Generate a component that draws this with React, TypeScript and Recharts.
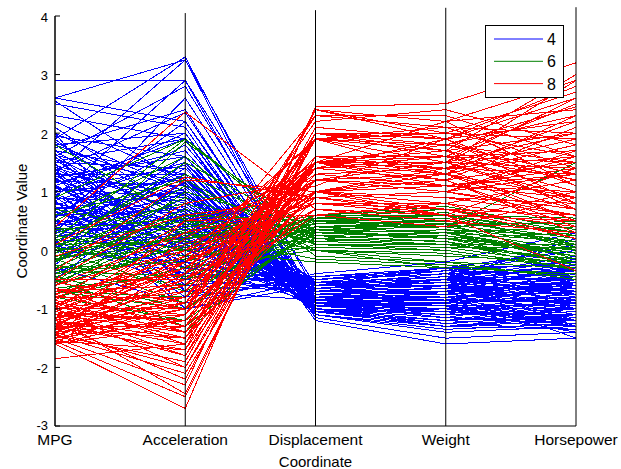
import React from 'react';
import { LineChart, Line, XAxis, YAxis, ReferenceLine, Legend } from 'recharts';

// Axis categories (x) and y ticks
const coordinates = ['MPG', 'Acceleration', 'Displacement', 'Weight', 'Horsepower'];
const yTicks = [-3, -2, -1, 0, 1, 2, 3, 4];
const groupNames = ['4', '6', '8'];
const groupColors = ['#0000ff', '#008000', '#ff0000'];

// Standardized values per car: [MPG, Acceleration, Displacement, Weight, Horsepower]
const cyl4Lines: number[][] = [
  [2.9, 2.9, -1.0, -1.3, -1.2],
  [2.6, 3.25, -1.05, -1.0, -1.4],
  [2.6, 2.2, -1.0, -1.2, -1.3],
  [2.5, 2.1, -1.1, -1.3, -1.35],
  [2.55, 1.1, -0.95, -1.1, -1.0],
  [2.2, 1.2, -1.1, -1.4, -1.3],
  [2.1, 0.6, -1.0, -1.25, -1.1],
  [1.9, 3.3, -0.9, -0.7, -1.5],
  [1.6, 2.8, -0.85, -0.6, -1.2],
  [1.3, 3.25, -0.7, -0.5, -1.3],
  [0.9, 2.9, -0.6, -0.3, -1.0],
  [1.95, 1.6, -1.0, -1.2, -0.9],
  [1.8, 1.0, -1.05, -1.3, -1.1],
  [1.7, 0.4, -0.95, -1.1, -0.7],
  [1.6, -0.2, -0.9, -1.0, -0.5],
  [1.5, 1.4, -0.9, -1.15, -1.2],
  [1.45, 0.8, -0.85, -0.9, -0.8],
  [1.4, 0.2, -0.8, -0.95, -0.6],
  [1.3, 1.3, -0.9, -1.0, -1.0],
  [1.25, -0.5, -0.7, -0.7, -0.3],
  [1.2, 0.5, -0.95, -1.0, -0.9],
  [1.15, 1.7, -0.8, -0.8, -1.2],
  [1.1, 0.0, -0.75, -0.85, -0.5],
  [1.05, 0.9, -0.9, -0.9, -0.8],
  [1.0, 1.2, -1.0, -1.1, -1.1],
  [0.95, -0.3, -0.6, -0.6, -0.2],
  [0.9, 0.6, -0.85, -0.8, -0.7],
  [0.85, 1.5, -0.95, -0.95, -1.15],
  [0.8, 0.3, -0.7, -0.75, -0.6],
  [0.75, -0.8, -0.5, -0.4, 0.1],
  [0.7, 1.0, -0.9, -0.85, -0.9],
  [0.65, 0.1, -0.65, -0.5, -0.4],
  [0.6, 0.7, -0.8, -0.7, -0.75],
  [0.55, 2.2, -0.9, -0.9, -1.3],
  [0.5, -0.4, -0.55, -0.45, -0.1],
  [0.45, 0.4, -0.75, -0.65, -0.55],
  [0.4, 1.3, -0.85, -0.6, -0.95],
  [0.35, -0.1, -0.6, -0.55, -0.35],
  [0.3, 0.8, -0.7, -0.5, -0.7],
  [0.25, 0.2, -0.5, -0.35, -0.4],
  [0.2, 1.6, -0.8, -0.7, -1.1],
  [0.15, -0.6, -0.45, -0.3, 0.0],
  [0.1, 0.5, -0.6, -0.45, -0.5],
  [0.05, 1.0, -0.7, -0.6, -0.85],
  [0.0, -0.2, -0.5, -0.3, -0.25],
  [-0.1, 0.3, -0.55, -0.35, -0.45],
  [-0.2, 0.9, -0.6, -0.4, -0.7],
  [-0.3, -0.9, -0.4, -0.2, 0.3],
  [-0.4, 0.6, -0.5, -0.3, -0.6],
  [-0.5, 1.2, -0.55, -0.45, -0.8],
  [1.75, 2.4, -1.0, -1.15, -1.25],
  [2.0, -0.7, -0.85, -0.9, -0.3],
  [1.35, -1.0, -0.6, -0.5, 0.2],
  [0.98, 2.0, -0.95, -1.0, -1.2],
  [0.72, -0.2, -0.6, -0.55, -0.45],
  [1.55, 0.1, -0.9, -1.05, -0.7],
  [1.85, 0.7, -1.05, -1.2, -1.0],
  [2.3, 1.9, -1.15, -1.5, -1.4],
  [1.1, 1.9, -1.2, -1.6, -1.5],
  [0.3, 2.6, -0.85, -0.95, -1.3],
  [1.62, 1.15, -1.1, -1.35, -1.25],
  [1.22, 0.35, -0.75, -0.8, -0.65],
  [0.82, 0.05, -0.55, -0.5, -0.3],
  [0.42, 0.95, -0.65, -0.55, -0.75],
  [1.48, -0.35, -0.8, -0.85, -0.4],
  [1.7, 1.3, -1.0, -1.2, -1.1],
  [1.65, -0.1, -0.85, -0.95, -0.55],
  [1.58, 0.55, -0.95, -1.05, -0.85],
  [1.52, 1.9, -1.05, -1.2, -1.3],
  [1.42, 0.65, -0.85, -0.9, -0.75],
  [1.38, -0.6, -0.7, -0.65, -0.3],
  [1.32, 0.95, -0.95, -1.1, -1.05],
  [1.28, 0.15, -0.8, -0.75, -0.55],
  [1.18, 1.1, -0.9, -0.95, -0.95],
  [1.12, -0.25, -0.7, -0.7, -0.45],
  [1.08, 0.45, -0.8, -0.85, -0.7],
  [1.02, 1.45, -1.0, -1.05, -1.1],
  [0.96, 0.25, -0.75, -0.7, -0.6],
  [0.92, -0.7, -0.55, -0.5, -0.15],
  [0.88, 0.85, -0.85, -0.85, -0.85],
  [0.78, 1.25, -0.9, -0.8, -1.0],
  [0.74, 0.5, -0.7, -0.65, -0.65],
  [0.68, -0.45, -0.55, -0.45, -0.25],
  [0.62, 0.2, -0.65, -0.6, -0.5],
  [0.58, 1.05, -0.8, -0.75, -0.9],
  [0.52, 0.0, -0.6, -0.5, -0.4],
  [0.48, 0.75, -0.7, -0.6, -0.7],
  [0.38, 0.35, -0.6, -0.5, -0.5],
  [0.32, -0.3, -0.5, -0.4, -0.3],
  [0.28, 1.15, -0.75, -0.65, -0.95],
  [0.22, 0.6, -0.6, -0.5, -0.6],
  [0.18, 0.05, -0.5, -0.4, -0.35],
  [0.12, 1.4, -0.7, -0.6, -1.0],
  [0.08, -0.4, -0.45, -0.35, -0.2],
  [-0.05, 0.7, -0.55, -0.45, -0.65],
  [-0.15, 0.15, -0.5, -0.35, -0.4],
  [-0.25, 1.5, -0.6, -0.5, -0.9],
  [1.9, 0.2, -1.0, -1.15, -0.8],
  [2.0, 1.0, -1.1, -1.3, -1.15],
  [1.8, 2.0, -1.05, -1.25, -1.35],
  [1.35, 2.35, -0.95, -1.0, -1.3],
  [0.85, -1.0, -0.5, -0.4, 0.0],
  [1.0, -0.5, -0.65, -0.6, -0.35],
  [0.6, 1.8, -0.85, -0.85, -1.2],
  [1.25, 1.6, -0.95, -1.05, -1.2],
];

const cyl6Lines: number[][] = [
  [1.8, 0.5, 0.0, -0.3, -0.4],
  [0.9, 1.9, 0.1, 0.0, -0.3],
  [0.2, 1.9, 0.2, 0.3, -0.2],
  [-0.2, 1.85, 0.3, 0.2, -0.1],
  [0.6, 1.2, 0.0, -0.2, -0.3],
  [0.3, 0.8, 0.1, 0.1, -0.2],
  [0.1, 0.5, 0.3, 0.2, 0.0],
  [0.0, 0.2, 0.4, 0.5, 0.2],
  [-0.1, 0.0, 0.35, 0.4, 0.1],
  [-0.2, 0.6, 0.2, 0.3, -0.1],
  [-0.3, -0.2, 0.5, 0.6, 0.3],
  [-0.4, 0.3, 0.3, 0.35, 0.0],
  [-0.5, -0.5, 0.55, 0.7, 0.4],
  [-0.6, 0.1, 0.45, 0.5, 0.2],
  [-0.7, -0.8, 0.6, 0.8, 0.5],
  [-0.8, -1.2, 0.4, 0.3, 0.4],
  [-0.9, -1.4, 0.5, 0.4, 0.5],
  [-0.45, -1.0, 0.3, 0.2, 0.3],
  [-0.25, -0.6, 0.2, 0.1, 0.1],
  [0.05, -0.3, 0.0, -0.1, -0.2],
  [0.4, 0.0, -0.2, -0.3, -0.4],
  [0.15, 1.3, 0.25, 0.15, -0.35],
  [-0.05, 0.9, 0.1, 0.05, -0.25],
  [-0.35, 0.4, 0.45, 0.6, 0.05],
  [-0.55, 1.0, 0.35, 0.45, -0.15],
  [-0.15, -0.9, 0.55, 0.45, 0.45],
  [-0.65, -0.4, 0.6, 0.7, 0.3],
  [0.5, 1.6, -0.1, -0.2, -0.5],
  [-0.5, -1.3, 0.4, 0.4, 1.5],
  [0.25, -0.1, 0.05, 0.0, -0.3],
  [-0.75, 0.2, 0.6, 0.6, 0.25],
  [0.7, 0.3, -0.15, -0.25, -0.45],
  [-0.3, 0.7, 0.15, 0.25, -0.05],
  [0.0, -0.7, 0.35, 0.3, 0.15],
  [-0.1, 0.45, 0.25, 0.3, -0.05],
  [-0.4, -0.15, 0.4, 0.45, 0.15],
  [0.1, 0.15, 0.15, 0.1, -0.15],
  [-0.6, 0.6, 0.5, 0.55, 0.1],
  [-0.2, 1.1, 0.2, 0.15, -0.2],
  [0.35, 0.55, 0.0, -0.05, -0.3],
  [-0.45, 0.05, 0.55, 0.5, 0.2],
  [-0.8, -0.3, 0.6, 0.75, 0.35],
  [0.0, 1.5, 0.3, 0.25, -0.1],
  [-0.35, -0.45, 0.3, 0.35, 0.25],
  [-0.55, 0.35, 0.45, 0.65, 0.0],
  [0.2, -0.5, 0.1, 0.05, 0.05],
  [-0.7, -1.0, 0.55, 0.6, 0.55],
  [-0.15, 0.25, 0.35, 0.2, -0.25],
];

const cyl8Lines: number[][] = [
  [-1.85, -1.6, 2.4, 2.2, 2.9],
  [-1.6, -2.7, 2.45, 2.5, 3.2],
  [-1.55, -2.5, 2.0, 1.7, 3.0],
  [-1.5, -2.3, 2.4, 1.9, 2.8],
  [-1.45, -2.1, 1.5, 1.6, 2.5],
  [-1.4, -2.0, 1.9, 1.5, 2.6],
  [-1.3, -1.7, 1.5, 1.4, 2.2],
  [-1.6, -1.3, 2.0, 2.0, 1.9],
  [-1.2, -1.5, 1.5, 1.3, 1.8],
  [-1.1, -1.2, 1.0, 1.2, 1.5],
  [-1.3, -0.9, 1.5, 1.8, 1.3],
  [-1.0, -1.0, 1.9, 1.5, 2.0],
  [-1.4, -0.7, 1.4, 1.9, 1.1],
  [-0.9, -1.4, 1.0, 0.8, 1.2],
  [-1.15, -0.5, 1.0, 1.3, 0.9],
  [-0.8, -0.8, 1.5, 1.1, 1.4],
  [-1.5, -0.4, 2.3, 2.3, 1.6],
  [-1.25, -1.1, 1.2, 1.0, 1.7],
  [-1.05, -0.2, 0.9, 1.0, 0.6],
  [-0.7, -0.6, 1.0, 0.9, 0.8],
  [-0.6, 0.0, 0.8, 0.7, 0.4],
  [-1.35, -1.5, 2.0, 1.8, 2.3],
  [-0.95, -0.3, 1.2, 1.5, 0.9],
  [-1.45, 0.2, 1.5, 1.6, 1.0],
  [-0.85, 0.5, 0.6, 0.8, 0.2],
  [-1.2, -1.6, 2.4, 2.0, 2.7],
  [-1.55, -0.9, 1.9, 1.7, 1.2],
  [-1.0, -1.8, 1.5, 1.2, 2.1],
  [-0.75, -1.3, 1.0, 0.6, 1.4],
  [-1.1, -0.6, 1.6, 1.4, 1.3],
  [0.4, 2.36, 0.7, 0.5, 0.3],
  [0.1, 1.25, 0.9, 0.6, 0.5],
  [-0.35, 1.2, 1.0, 0.7, 0.6],
  [-0.5, 0.8, 1.2, 1.0, 0.7],
  [-0.6, 0.3, 0.8, 0.6, -0.35],
  [-1.3, -0.2, 1.3, 1.4, 0.5],
  [-1.5, -1.0, 2.2, 2.4, 1.8],
  [-1.0, 0.3, 1.4, 1.2, 0.3],
  [-1.25, -2.2, 1.9, 1.5, 2.9],
  [-0.65, -1.0, 0.7, 0.5, 1.0],
  [-1.4, -1.2, 1.4, 1.6, 1.5],
  [-0.9, -0.4, 1.5, 2.2, 1.1],
  [-1.35, 0.5, 1.1, 1.9, 0.8],
  [-1.15, -2.45, 2.0, 1.8, 2.45],
  [-1.6, -0.2, 1.9, 2.1, 1.4],
  [-1.2, -0.8, 1.2, 1.1, 1.0],
  [-0.95, -1.5, 0.9, 1.0, 1.6],
  [-1.45, -1.9, 2.1, 1.9, 2.2],
  [-1.05, 0.0, 1.5, 1.7, 0.7],
  [-0.55, -0.9, 0.6, 0.4, 0.9],
  [-1.5, -1.2, 1.0, 1.4, 1.9],
  [-0.8, -0.1, 1.9, 1.3, 0.5],
  [-0.1, 0.6, 0.9, 0.7, 0.2],
  [-1.0, -0.7, 1.6, 1.6, 1.2],
  [-1.2, -0.3, 1.4, 1.5, 0.8],
  [-1.3, -1.3, 2.0, 1.6, 1.7],
  [-0.9, -1.1, 1.3, 1.1, 1.3],
  [-1.1, -1.4, 1.9, 1.7, 2.0],
  [-1.4, -0.5, 1.5, 1.7, 1.2],
  [-0.7, -0.4, 1.0, 0.9, 0.6],
  [-1.55, -1.7, 2.4, 2.2, 2.4],
  [-1.25, -0.6, 1.0, 1.1, 0.9],
  [-0.85, -1.6, 1.5, 1.3, 1.8],
  [-1.05, -1.2, 1.5, 1.4, 1.6],
  [-1.35, -1.0, 1.5, 1.5, 1.4],
  [-1.15, -0.9, 1.9, 1.8, 1.5],
  [-0.75, -0.2, 0.8, 0.8, 0.5],
  [-1.45, -0.8, 1.9, 2.0, 1.6],
  [-0.65, -1.4, 1.2, 1.0, 1.3],
  [-1.6, -1.1, 2.3, 2.1, 2.0],
  [-1.0, -2.0, 1.6, 1.3, 2.3],
  [-0.95, 0.1, 1.0, 1.2, 0.4],
  [-1.3, -0.1, 1.2, 1.3, 0.7],
  [-0.5, -0.5, 0.7, 0.6, 0.5],
  [-1.2, -1.8, 2.0, 1.9, 2.6],
];

const groups = [cyl4Lines, cyl6Lines, cyl8Lines];

// Build table: one row per coordinate, one key per car line
const chartData = coordinates.map((name, i) => {
  const row: Record<string, number | string> = { idx: i, name };
  groups.forEach((lines, g) => {
    lines.forEach((vals, j) => {
      row[`g${g}_${j}`] = vals[i];
    });
  });
  return row;
});

const FONT = '"Liberation Sans", Arial, Helvetica, sans-serif';

const YTick = (props: any) => {
  const { x, y, payload } = props;
  return (
    <g>
      <line x1={x + 7} x2={x + 12} y1={y} y2={y} stroke="#000" strokeWidth={1} />
      <text x={x} y={payload.value === -3 ? y - 1 : y + 1} textAnchor="end" dominantBaseline="central" fontSize={13} fontFamily={FONT} fill="#000">
        {payload.value}
      </text>
    </g>
  );
};

const LegendBox = () => (
  <svg width={80} height={74} style={{ display: 'block' }}>
    <rect x={0.5} y={0.5} width={78} height={72} fill="#fff" stroke="#000" strokeWidth={1} />
    {groupNames.map((n, i) => (
      <g key={n}>
        <line x1={9} x2={58} y1={14 + i * 22.3} y2={14 + i * 22.3} stroke={groupColors[i]} strokeWidth={1} />
        <text x={62} y={14 + i * 22.3 + 6} fontSize={16} fontFamily={FONT} fill="#000">
          {n}
        </text>
      </g>
    ))}
  </svg>
);

const verticalTops = [4.0, 4.05, 4.1, 4.14, 4.15];

export default function App() {
  return (
    <div style={{ position: 'absolute', left: 0, top: 0, width: 621, height: 469, background: '#fff' }}>
      <LineChart width={621} height={469} data={chartData} margin={{ top: 16, right: 45, bottom: 0, left: 0 }}>
        <XAxis
          dataKey="idx"
          type="number"
          domain={[0, 4]}
          ticks={[0, 1, 2, 3, 4]}
          tickFormatter={(v: number) => coordinates[v]}
          height={43}
          tickSize={0}
          tickMargin={8}
          tickLine={false}
          axisLine={{ stroke: '#000' }}
          tick={{ fontSize: 15.5, fill: '#000', fontFamily: FONT }}
          interval={0}
          label={{
            content: (p: any) => {
              const vb = p.viewBox || { x: 55, y: 426, width: 521, height: 43 };
              return (
                <text x={vb.x + vb.width / 2} y={vb.y + vb.height - 2} textAnchor="middle" fontSize={15} fontFamily={FONT} fill="#000">
                  Coordinate
                </text>
              );
            },
          }}
        />
        <YAxis
          type="number"
          domain={[-3, 4]}
          ticks={yTicks}
          width={55}
          tickSize={0}
          tickMargin={7}
          tickLine={false}
          axisLine={{ stroke: '#000' }}
          tick={<YTick />}
          interval={0}
          label={{
            content: (p: any) => {
              const vb = p.viewBox || { x: 0, y: 16, width: 55, height: 410 };
              const cx = vb.x + 26.5;
              const cy = vb.y + vb.height / 2;
              return (
                <text x={cx} y={cy} transform={`rotate(-90 ${cx} ${cy})`} textAnchor="middle" fontSize={15} fontFamily={FONT} fill="#000">
                  Coordinate Value
                </text>
              );
            },
          }}
        />
        {groups.map((lines, g) =>
          lines.map((_, j) => (
            <Line
              key={`g${g}_${j}`}
              dataKey={`g${g}_${j}`}
              type="linear"
              stroke={groupColors[g]}
              strokeWidth={1}
              shapeRendering="crispEdges"
              dot={false}
              activeDot={false}
              isAnimationActive={false}
            />
          ))
        )}
        {coordinates.map((c, i) => (
          <ReferenceLine
            key={c}
            segment={[{ x: i, y: -3 }, { x: i, y: verticalTops[i] }]}
            stroke="#000"
            strokeWidth={1}
            ifOverflow="visible"
          />
        ))}
        <Legend
          content={<LegendBox />}
          wrapperStyle={{ left: 485, top: 25, right: 'auto', bottom: 'auto', width: 0, height: 0, overflow: 'visible' }}
        />
      </LineChart>
    </div>
  );
}
